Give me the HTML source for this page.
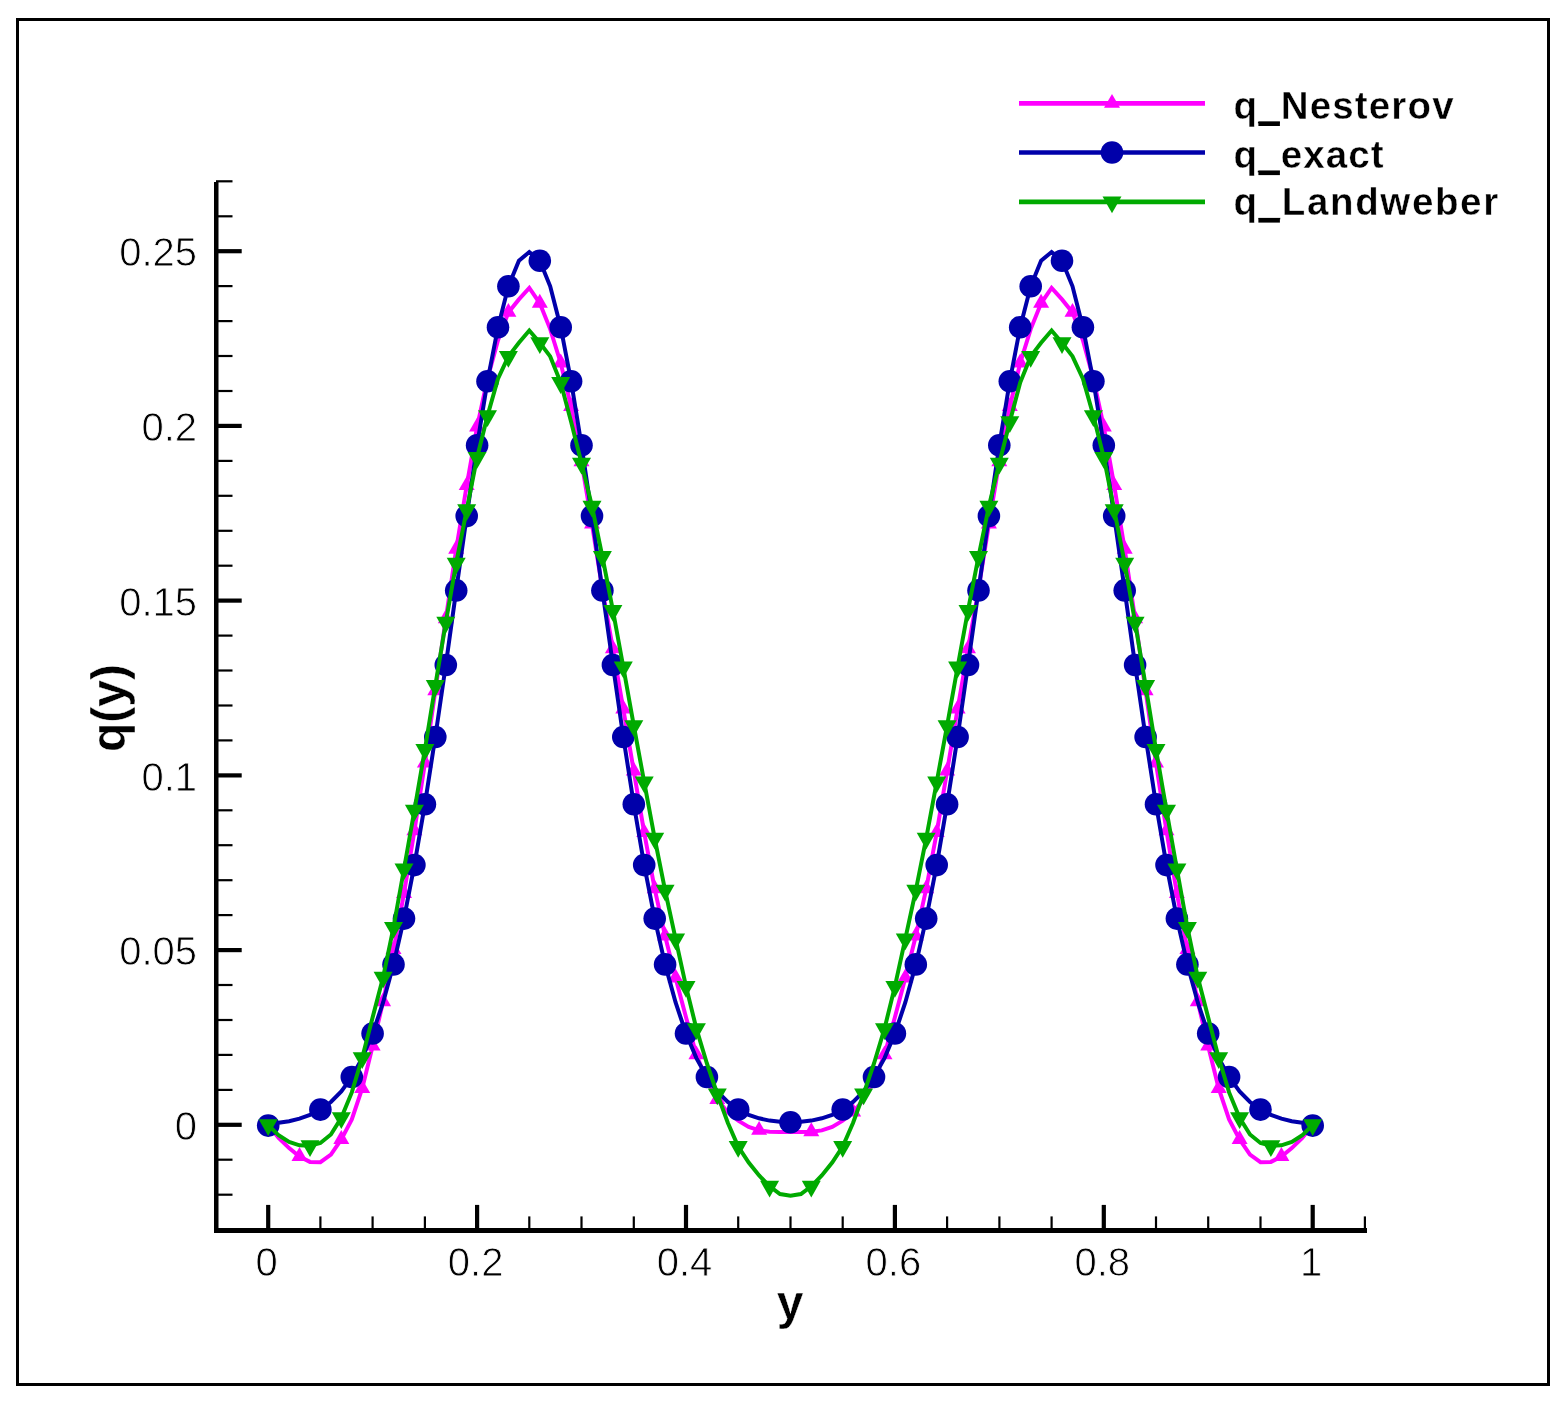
<!DOCTYPE html>
<html lang="en">
<head>
<meta charset="utf-8">
<title>q(y) comparison</title>
<style>
html,body{margin:0;padding:0;background:#fff;}
body{width:1564px;height:1407px;overflow:hidden;}
svg{display:block;}
</style>
</head>
<body>
<svg width="1564" height="1407" viewBox="0 0 1564 1407" role="img" aria-label="Comparison of q_Nesterov, q_exact and q_Landweber versus y">
<rect x="0" y="0" width="1564" height="1407" fill="#fff"/>
<rect x="17.5" y="19.5" width="1531" height="1365" fill="none" stroke="#000" stroke-width="3"/>
<g stroke="#000" stroke-linecap="butt">
<line x1="216.25" y1="182" x2="216.25" y2="1233" stroke-width="4.5"/>
<line x1="214" y1="1230.5" x2="1367" y2="1230.5" stroke-width="4.8"/>
<line x1="216" y1="1229.6" x2="232.5" y2="1229.6" stroke-width="2.2"/>
<line x1="216" y1="1194.7" x2="232.5" y2="1194.7" stroke-width="2.2"/>
<line x1="216" y1="1159.7" x2="232.5" y2="1159.7" stroke-width="2.2"/>
<line x1="216" y1="1124.8" x2="241.7" y2="1124.8" stroke-width="4.2"/>
<line x1="216" y1="1089.9" x2="232.5" y2="1089.9" stroke-width="2.2"/>
<line x1="216" y1="1054.9" x2="232.5" y2="1054.9" stroke-width="2.2"/>
<line x1="216" y1="1020.0" x2="232.5" y2="1020.0" stroke-width="2.2"/>
<line x1="216" y1="985.0" x2="232.5" y2="985.0" stroke-width="2.2"/>
<line x1="216" y1="950.1" x2="241.7" y2="950.1" stroke-width="4.2"/>
<line x1="216" y1="915.1" x2="232.5" y2="915.1" stroke-width="2.2"/>
<line x1="216" y1="880.2" x2="232.5" y2="880.2" stroke-width="2.2"/>
<line x1="216" y1="845.2" x2="232.5" y2="845.2" stroke-width="2.2"/>
<line x1="216" y1="810.3" x2="232.5" y2="810.3" stroke-width="2.2"/>
<line x1="216" y1="775.4" x2="241.7" y2="775.4" stroke-width="4.2"/>
<line x1="216" y1="740.4" x2="232.5" y2="740.4" stroke-width="2.2"/>
<line x1="216" y1="705.5" x2="232.5" y2="705.5" stroke-width="2.2"/>
<line x1="216" y1="670.5" x2="232.5" y2="670.5" stroke-width="2.2"/>
<line x1="216" y1="635.6" x2="232.5" y2="635.6" stroke-width="2.2"/>
<line x1="216" y1="600.6" x2="241.7" y2="600.6" stroke-width="4.2"/>
<line x1="216" y1="565.7" x2="232.5" y2="565.7" stroke-width="2.2"/>
<line x1="216" y1="530.8" x2="232.5" y2="530.8" stroke-width="2.2"/>
<line x1="216" y1="495.8" x2="232.5" y2="495.8" stroke-width="2.2"/>
<line x1="216" y1="460.9" x2="232.5" y2="460.9" stroke-width="2.2"/>
<line x1="216" y1="425.9" x2="241.7" y2="425.9" stroke-width="4.2"/>
<line x1="216" y1="391.0" x2="232.5" y2="391.0" stroke-width="2.2"/>
<line x1="216" y1="356.0" x2="232.5" y2="356.0" stroke-width="2.2"/>
<line x1="216" y1="321.1" x2="232.5" y2="321.1" stroke-width="2.2"/>
<line x1="216" y1="286.1" x2="232.5" y2="286.1" stroke-width="2.2"/>
<line x1="216" y1="251.2" x2="241.7" y2="251.2" stroke-width="4.2"/>
<line x1="216" y1="216.3" x2="232.5" y2="216.3" stroke-width="2.2"/>
<line x1="216" y1="181.3" x2="232.5" y2="181.3" stroke-width="2.2"/>
<line x1="216.0" y1="1216.4" x2="216.0" y2="1231" stroke-width="2.2"/>
<line x1="268.2" y1="1204.9" x2="268.2" y2="1231" stroke-width="4.2"/>
<line x1="320.4" y1="1216.4" x2="320.4" y2="1231" stroke-width="2.2"/>
<line x1="372.6" y1="1216.4" x2="372.6" y2="1231" stroke-width="2.2"/>
<line x1="424.9" y1="1216.4" x2="424.9" y2="1231" stroke-width="2.2"/>
<line x1="477.1" y1="1204.9" x2="477.1" y2="1231" stroke-width="4.2"/>
<line x1="529.3" y1="1216.4" x2="529.3" y2="1231" stroke-width="2.2"/>
<line x1="581.5" y1="1216.4" x2="581.5" y2="1231" stroke-width="2.2"/>
<line x1="633.8" y1="1216.4" x2="633.8" y2="1231" stroke-width="2.2"/>
<line x1="686.0" y1="1204.9" x2="686.0" y2="1231" stroke-width="4.2"/>
<line x1="738.2" y1="1216.4" x2="738.2" y2="1231" stroke-width="2.2"/>
<line x1="790.5" y1="1216.4" x2="790.5" y2="1231" stroke-width="2.2"/>
<line x1="842.7" y1="1216.4" x2="842.7" y2="1231" stroke-width="2.2"/>
<line x1="894.9" y1="1204.9" x2="894.9" y2="1231" stroke-width="4.2"/>
<line x1="947.1" y1="1216.4" x2="947.1" y2="1231" stroke-width="2.2"/>
<line x1="999.4" y1="1216.4" x2="999.4" y2="1231" stroke-width="2.2"/>
<line x1="1051.6" y1="1216.4" x2="1051.6" y2="1231" stroke-width="2.2"/>
<line x1="1103.8" y1="1204.9" x2="1103.8" y2="1231" stroke-width="4.2"/>
<line x1="1156.0" y1="1216.4" x2="1156.0" y2="1231" stroke-width="2.2"/>
<line x1="1208.2" y1="1216.4" x2="1208.2" y2="1231" stroke-width="2.2"/>
<line x1="1260.5" y1="1216.4" x2="1260.5" y2="1231" stroke-width="2.2"/>
<line x1="1312.7" y1="1204.9" x2="1312.7" y2="1231" stroke-width="4.2"/>
<line x1="1364.9" y1="1216.4" x2="1364.9" y2="1231" stroke-width="2.2"/>
</g>
<g font-family="'Liberation Sans', sans-serif" font-size="40px" fill="#000" stroke="#fff" stroke-width="0.8" paint-order="fill stroke">
<text x="197" y="1139.9" text-anchor="end">0</text>
<text x="197" y="965.2" text-anchor="end">0.05</text>
<text x="197" y="790.5" text-anchor="end">0.1</text>
<text x="197" y="615.7" text-anchor="end">0.15</text>
<text x="197" y="441.0" text-anchor="end">0.2</text>
<text x="197" y="266.3" text-anchor="end">0.25</text>
<text x="266.7" y="1275.8" text-anchor="middle">0</text>
<text x="475.6" y="1275.8" text-anchor="middle">0.2</text>
<text x="684.5" y="1275.8" text-anchor="middle">0.4</text>
<text x="893.4" y="1275.8" text-anchor="middle">0.6</text>
<text x="1102.3" y="1275.8" text-anchor="middle">0.8</text>
<text x="1311.2" y="1275.8" text-anchor="middle">1</text>
</g>
<g font-family="'Liberation Sans', sans-serif" font-weight="bold" font-size="48px" fill="#000" stroke="#fff" stroke-width="0.4" paint-order="fill stroke">
<text x="790" y="1319" text-anchor="middle">y</text>
<text transform="translate(124.5,708) rotate(-90)" text-anchor="middle">q(y)</text>
</g>
<g fill="#ff00ff" stroke="none">
<polyline points="268.2,1124.8 278.6,1137.8 289.1,1148.1 299.5,1156.6 310.0,1161.9 320.4,1162.2 330.9,1154.7 341.3,1139.5 351.8,1119.5 362.2,1088.5 372.6,1046.2 383.1,1001.8 393.5,949.7 404.0,893.5 414.4,830.9 424.9,763.1 435.3,690.8 445.8,618.8 456.2,549.3 466.7,485.7 477.1,427.0 487.5,378.7 498.0,340.3 508.4,312.4 518.9,299.4 529.3,287.9 539.8,303.3 550.2,329.1 560.7,363.0 571.1,406.7 581.5,461.9 592.0,524.1 602.4,589.5 612.9,648.9 623.3,709.0 633.8,771.2 644.2,832.7 654.7,888.9 665.1,936.1 675.6,978.0 686.0,1017.2 696.4,1054.9 706.9,1080.1 717.3,1099.6 727.8,1112.2 738.2,1120.6 748.7,1126.9 759.1,1130.4 769.6,1131.8 780.0,1132.1 790.5,1132.1 800.9,1132.1 811.3,1131.8 821.8,1130.4 832.2,1126.9 842.7,1120.6 853.1,1112.2 863.6,1099.6 874.0,1080.1 884.5,1054.9 894.9,1017.2 905.3,978.0 915.8,936.1 926.2,888.9 936.7,832.7 947.1,771.2 957.6,709.0 968.0,648.9 978.5,589.5 988.9,524.1 999.3,461.9 1009.8,406.7 1020.2,363.0 1030.7,329.1 1041.1,303.3 1051.6,287.9 1062.0,299.4 1072.5,312.4 1082.9,340.3 1093.4,378.7 1103.8,427.0 1114.2,485.7 1124.7,549.3 1135.1,618.8 1145.6,690.8 1156.0,763.1 1166.5,830.9 1176.9,893.5 1187.4,949.7 1197.8,1001.8 1208.2,1046.2 1218.7,1088.5 1229.1,1119.5 1239.6,1139.5 1250.0,1154.7 1260.5,1162.2 1270.9,1161.9 1281.4,1156.6 1291.8,1148.1 1302.3,1137.8 1312.7,1124.8" fill="none" stroke="#ff00ff" stroke-width="4.0" stroke-linejoin="miter" stroke-linecap="butt"/>
<path d="M268.2 1115.3 L276.2 1129.2 L260.2 1129.2 Z"/>
<path d="M299.5 1147.1 L307.5 1161.0 L291.5 1161.0 Z"/>
<path d="M341.3 1130.0 L349.3 1143.9 L333.3 1143.9 Z"/>
<path d="M362.2 1079.0 L370.2 1092.9 L354.2 1092.9 Z"/>
<path d="M372.6 1036.7 L380.6 1050.6 L364.6 1050.6 Z"/>
<path d="M383.1 992.3 L391.1 1006.2 L375.1 1006.2 Z"/>
<path d="M393.5 940.2 L401.5 954.1 L385.5 954.1 Z"/>
<path d="M404.0 884.0 L412.0 897.9 L396.0 897.9 Z"/>
<path d="M414.4 821.4 L422.4 835.3 L406.4 835.3 Z"/>
<path d="M424.9 753.6 L432.9 767.5 L416.9 767.5 Z"/>
<path d="M435.3 681.3 L443.3 695.2 L427.3 695.2 Z"/>
<path d="M445.8 609.3 L453.8 623.2 L437.8 623.2 Z"/>
<path d="M456.2 539.8 L464.2 553.7 L448.2 553.7 Z"/>
<path d="M466.7 476.2 L474.7 490.1 L458.7 490.1 Z"/>
<path d="M477.1 417.5 L485.1 431.4 L469.1 431.4 Z"/>
<path d="M487.5 369.2 L495.5 383.1 L479.5 383.1 Z"/>
<path d="M508.4 302.9 L516.4 316.8 L500.4 316.8 Z"/>
<path d="M539.8 293.8 L547.8 307.7 L531.8 307.7 Z"/>
<path d="M560.7 353.5 L568.7 367.4 L552.7 367.4 Z"/>
<path d="M571.1 397.2 L579.1 411.1 L563.1 411.1 Z"/>
<path d="M581.5 452.4 L589.5 466.3 L573.5 466.3 Z"/>
<path d="M592.0 514.6 L600.0 528.5 L584.0 528.5 Z"/>
<path d="M602.4 580.0 L610.4 593.9 L594.4 593.9 Z"/>
<path d="M612.9 639.4 L620.9 653.3 L604.9 653.3 Z"/>
<path d="M623.3 699.5 L631.3 713.4 L615.3 713.4 Z"/>
<path d="M633.8 761.7 L641.8 775.6 L625.8 775.6 Z"/>
<path d="M644.2 823.2 L652.2 837.1 L636.2 837.1 Z"/>
<path d="M654.7 879.4 L662.7 893.3 L646.7 893.3 Z"/>
<path d="M665.1 926.6 L673.1 940.5 L657.1 940.5 Z"/>
<path d="M675.6 968.5 L683.6 982.4 L667.6 982.4 Z"/>
<path d="M696.4 1045.4 L704.4 1059.3 L688.4 1059.3 Z"/>
<path d="M717.3 1090.1 L725.3 1104.0 L709.3 1104.0 Z"/>
<path d="M759.1 1120.9 L767.1 1134.8 L751.1 1134.8 Z"/>
<path d="M811.3 1122.3 L819.3 1136.2 L803.3 1136.2 Z"/>
<path d="M853.1 1102.7 L861.1 1116.6 L845.1 1116.6 Z"/>
<path d="M884.5 1045.4 L892.5 1059.3 L876.5 1059.3 Z"/>
<path d="M905.3 968.5 L913.3 982.4 L897.3 982.4 Z"/>
<path d="M915.8 926.6 L923.8 940.5 L907.8 940.5 Z"/>
<path d="M926.2 879.4 L934.2 893.3 L918.2 893.3 Z"/>
<path d="M936.7 823.2 L944.7 837.1 L928.7 837.1 Z"/>
<path d="M947.1 761.7 L955.1 775.6 L939.1 775.6 Z"/>
<path d="M957.6 699.5 L965.6 713.4 L949.6 713.4 Z"/>
<path d="M968.0 639.4 L976.0 653.3 L960.0 653.3 Z"/>
<path d="M978.5 580.0 L986.5 593.9 L970.5 593.9 Z"/>
<path d="M988.9 514.6 L996.9 528.5 L980.9 528.5 Z"/>
<path d="M999.3 452.4 L1007.3 466.3 L991.3 466.3 Z"/>
<path d="M1009.8 397.2 L1017.8 411.1 L1001.8 411.1 Z"/>
<path d="M1020.2 353.5 L1028.2 367.4 L1012.2 367.4 Z"/>
<path d="M1041.1 293.8 L1049.1 307.7 L1033.1 307.7 Z"/>
<path d="M1072.5 302.9 L1080.5 316.8 L1064.5 316.8 Z"/>
<path d="M1093.4 369.2 L1101.4 383.1 L1085.4 383.1 Z"/>
<path d="M1103.8 417.5 L1111.8 431.4 L1095.8 431.4 Z"/>
<path d="M1114.2 476.2 L1122.2 490.1 L1106.2 490.1 Z"/>
<path d="M1124.7 539.8 L1132.7 553.7 L1116.7 553.7 Z"/>
<path d="M1135.1 609.3 L1143.1 623.2 L1127.1 623.2 Z"/>
<path d="M1145.6 681.3 L1153.6 695.2 L1137.6 695.2 Z"/>
<path d="M1156.0 753.6 L1164.0 767.5 L1148.0 767.5 Z"/>
<path d="M1166.5 821.4 L1174.5 835.3 L1158.5 835.3 Z"/>
<path d="M1176.9 884.0 L1184.9 897.9 L1168.9 897.9 Z"/>
<path d="M1187.4 940.2 L1195.4 954.1 L1179.4 954.1 Z"/>
<path d="M1197.8 992.3 L1205.8 1006.2 L1189.8 1006.2 Z"/>
<path d="M1208.2 1036.7 L1216.2 1050.6 L1200.2 1050.6 Z"/>
<path d="M1218.7 1079.0 L1226.7 1092.9 L1210.7 1092.9 Z"/>
<path d="M1239.6 1130.0 L1247.6 1143.9 L1231.6 1143.9 Z"/>
<path d="M1281.4 1147.1 L1289.4 1161.0 L1273.4 1161.0 Z"/>
<path d="M1312.7 1115.3 L1320.7 1129.2 L1304.7 1129.2 Z"/>
</g>
<g fill="#0000aa" stroke="none">
<polyline points="268.2,1125.6 278.6,1122.8 289.1,1121.2 299.5,1118.7 310.0,1115.0 320.4,1109.6 330.9,1102.0 341.3,1091.4 351.8,1077.0 362.2,1058.1 372.6,1033.5 383.1,1002.5 393.5,964.4 404.0,918.6 414.4,865.1 424.9,804.2 435.3,737.0 445.8,665.0 456.2,590.4 466.7,516.1 477.1,445.2 487.5,381.2 498.0,327.2 508.4,286.3 518.9,260.7 529.3,252.0 539.8,260.7 550.2,286.3 560.7,327.2 571.1,381.2 581.5,445.2 592.0,516.1 602.4,590.4 612.9,665.0 623.3,737.0 633.8,804.2 644.2,865.1 654.7,918.6 665.1,964.4 675.6,1002.5 686.0,1033.5 696.4,1058.1 706.9,1077.0 717.3,1091.4 727.8,1101.9 738.2,1109.5 748.7,1114.8 759.1,1118.3 769.6,1120.6 780.0,1121.8 790.5,1122.2 800.9,1121.8 811.3,1120.6 821.8,1118.3 832.2,1114.8 842.7,1109.5 853.1,1101.9 863.6,1091.4 874.0,1077.0 884.5,1058.1 894.9,1033.5 905.3,1002.5 915.8,964.4 926.2,918.6 936.7,865.1 947.1,804.2 957.6,737.0 968.0,665.0 978.5,590.4 988.9,516.1 999.3,445.2 1009.8,381.2 1020.2,327.2 1030.7,286.3 1041.1,260.7 1051.6,252.0 1062.0,260.7 1072.5,286.3 1082.9,327.2 1093.4,381.2 1103.8,445.2 1114.2,516.1 1124.7,590.4 1135.1,665.0 1145.6,737.0 1156.0,804.2 1166.5,865.1 1176.9,918.6 1187.4,964.4 1197.8,1002.5 1208.2,1033.5 1218.7,1058.1 1229.1,1077.0 1239.6,1091.4 1250.0,1102.0 1260.5,1109.6 1270.9,1115.0 1281.4,1118.7 1291.8,1121.2 1302.3,1122.8 1312.7,1125.6" fill="none" stroke="#0000aa" stroke-width="4.0" stroke-linejoin="miter" stroke-linecap="butt"/>
<circle cx="268.2" cy="1125.6" r="11.3"/>
<circle cx="320.4" cy="1109.6" r="11.3"/>
<circle cx="351.8" cy="1077.0" r="11.3"/>
<circle cx="372.6" cy="1033.5" r="11.3"/>
<circle cx="393.5" cy="964.4" r="11.3"/>
<circle cx="404.0" cy="918.6" r="11.3"/>
<circle cx="414.4" cy="865.1" r="11.3"/>
<circle cx="424.9" cy="804.2" r="11.3"/>
<circle cx="435.3" cy="737.0" r="11.3"/>
<circle cx="445.8" cy="665.0" r="11.3"/>
<circle cx="456.2" cy="590.4" r="11.3"/>
<circle cx="466.7" cy="516.1" r="11.3"/>
<circle cx="477.1" cy="445.2" r="11.3"/>
<circle cx="487.5" cy="381.2" r="11.3"/>
<circle cx="498.0" cy="327.2" r="11.3"/>
<circle cx="508.4" cy="286.3" r="11.3"/>
<circle cx="539.8" cy="260.7" r="11.3"/>
<circle cx="560.7" cy="327.2" r="11.3"/>
<circle cx="571.1" cy="381.2" r="11.3"/>
<circle cx="581.5" cy="445.2" r="11.3"/>
<circle cx="592.0" cy="516.1" r="11.3"/>
<circle cx="602.4" cy="590.4" r="11.3"/>
<circle cx="612.9" cy="665.0" r="11.3"/>
<circle cx="623.3" cy="737.0" r="11.3"/>
<circle cx="633.8" cy="804.2" r="11.3"/>
<circle cx="644.2" cy="865.1" r="11.3"/>
<circle cx="654.7" cy="918.6" r="11.3"/>
<circle cx="665.1" cy="964.4" r="11.3"/>
<circle cx="686.0" cy="1033.5" r="11.3"/>
<circle cx="706.9" cy="1077.0" r="11.3"/>
<circle cx="738.2" cy="1109.5" r="11.3"/>
<circle cx="790.5" cy="1122.2" r="11.3"/>
<circle cx="842.7" cy="1109.5" r="11.3"/>
<circle cx="874.0" cy="1077.0" r="11.3"/>
<circle cx="894.9" cy="1033.5" r="11.3"/>
<circle cx="915.8" cy="964.4" r="11.3"/>
<circle cx="926.2" cy="918.6" r="11.3"/>
<circle cx="936.7" cy="865.1" r="11.3"/>
<circle cx="947.1" cy="804.2" r="11.3"/>
<circle cx="957.6" cy="737.0" r="11.3"/>
<circle cx="968.0" cy="665.0" r="11.3"/>
<circle cx="978.5" cy="590.4" r="11.3"/>
<circle cx="988.9" cy="516.1" r="11.3"/>
<circle cx="999.3" cy="445.2" r="11.3"/>
<circle cx="1009.8" cy="381.2" r="11.3"/>
<circle cx="1020.2" cy="327.2" r="11.3"/>
<circle cx="1030.7" cy="286.3" r="11.3"/>
<circle cx="1062.0" cy="260.7" r="11.3"/>
<circle cx="1082.9" cy="327.2" r="11.3"/>
<circle cx="1093.4" cy="381.2" r="11.3"/>
<circle cx="1103.8" cy="445.2" r="11.3"/>
<circle cx="1114.2" cy="516.1" r="11.3"/>
<circle cx="1124.7" cy="590.4" r="11.3"/>
<circle cx="1135.1" cy="665.0" r="11.3"/>
<circle cx="1145.6" cy="737.0" r="11.3"/>
<circle cx="1156.0" cy="804.2" r="11.3"/>
<circle cx="1166.5" cy="865.1" r="11.3"/>
<circle cx="1176.9" cy="918.6" r="11.3"/>
<circle cx="1187.4" cy="964.4" r="11.3"/>
<circle cx="1208.2" cy="1033.5" r="11.3"/>
<circle cx="1229.1" cy="1077.0" r="11.3"/>
<circle cx="1260.5" cy="1109.6" r="11.3"/>
<circle cx="1312.7" cy="1125.6" r="11.3"/>
</g>
<g fill="#00aa00" stroke="none">
<polyline points="268.2,1124.8 278.6,1135.3 289.1,1141.9 299.5,1145.3 310.0,1145.8 320.4,1143.0 330.9,1134.5 341.3,1117.8 351.8,1092.4 362.2,1057.7 372.6,1017.5 383.1,977.3 393.5,927.4 404.0,869.0 414.4,810.3 424.9,749.5 435.3,685.6 445.8,622.3 456.2,563.2 466.7,509.8 477.1,457.4 487.5,415.8 498.0,378.7 508.4,356.4 518.9,342.8 529.3,330.5 539.8,342.8 550.2,356.4 560.7,382.6 571.1,421.7 581.5,463.3 592.0,506.3 602.4,556.6 612.9,610.4 623.3,667.0 633.8,725.7 644.2,782.0 654.7,838.3 665.1,890.3 675.6,938.9 686.0,986.4 696.4,1028.7 706.9,1063.5 717.3,1094.0 727.8,1122.8 738.2,1146.5 748.7,1162.5 759.1,1175.5 769.6,1186.3 780.0,1194.0 790.5,1195.7 800.9,1194.0 811.3,1186.3 821.8,1175.5 832.2,1162.5 842.7,1146.5 853.1,1122.8 863.6,1094.0 874.0,1063.5 884.5,1028.7 894.9,986.4 905.3,938.9 915.8,890.3 926.2,838.3 936.7,782.0 947.1,725.7 957.6,667.0 968.0,610.4 978.5,556.6 988.9,506.3 999.3,463.3 1009.8,421.7 1020.2,382.6 1030.7,356.4 1041.1,342.8 1051.6,330.5 1062.0,342.8 1072.5,356.4 1082.9,378.7 1093.4,415.8 1103.8,457.4 1114.2,509.8 1124.7,563.2 1135.1,622.3 1145.6,685.6 1156.0,749.5 1166.5,810.3 1176.9,869.0 1187.4,927.4 1197.8,977.3 1208.2,1017.5 1218.7,1057.7 1229.1,1092.4 1239.6,1117.8 1250.0,1134.5 1260.5,1143.0 1270.9,1145.8 1281.4,1145.3 1291.8,1141.9 1302.3,1135.3 1312.7,1124.8" fill="none" stroke="#00aa00" stroke-width="4.0" stroke-linejoin="miter" stroke-linecap="butt"/>
<path d="M268.2 1136.1 L277.7 1119.3 L258.7 1119.3 Z"/>
<path d="M310.0 1157.1 L319.5 1140.3 L300.5 1140.3 Z"/>
<path d="M341.3 1129.1 L350.8 1112.3 L331.8 1112.3 Z"/>
<path d="M362.2 1069.0 L371.7 1052.2 L352.7 1052.2 Z"/>
<path d="M383.1 988.6 L392.6 971.8 L373.6 971.8 Z"/>
<path d="M393.5 938.7 L403.0 921.9 L384.0 921.9 Z"/>
<path d="M404.0 880.3 L413.5 863.5 L394.5 863.5 Z"/>
<path d="M414.4 821.6 L423.9 804.8 L404.9 804.8 Z"/>
<path d="M424.9 760.8 L434.4 744.0 L415.4 744.0 Z"/>
<path d="M435.3 696.9 L444.8 680.1 L425.8 680.1 Z"/>
<path d="M445.8 633.6 L455.3 616.8 L436.3 616.8 Z"/>
<path d="M456.2 574.5 L465.7 557.7 L446.7 557.7 Z"/>
<path d="M466.7 521.1 L476.2 504.3 L457.2 504.3 Z"/>
<path d="M477.1 468.7 L486.6 451.9 L467.6 451.9 Z"/>
<path d="M487.5 427.1 L497.0 410.3 L478.0 410.3 Z"/>
<path d="M508.4 367.7 L517.9 350.9 L498.9 350.9 Z"/>
<path d="M539.8 354.1 L549.3 337.3 L530.3 337.3 Z"/>
<path d="M560.7 393.9 L570.2 377.1 L551.2 377.1 Z"/>
<path d="M581.5 474.6 L591.0 457.8 L572.0 457.8 Z"/>
<path d="M592.0 517.6 L601.5 500.8 L582.5 500.8 Z"/>
<path d="M602.4 567.9 L611.9 551.1 L592.9 551.1 Z"/>
<path d="M612.9 621.7 L622.4 604.9 L603.4 604.9 Z"/>
<path d="M623.3 678.3 L632.8 661.5 L613.8 661.5 Z"/>
<path d="M633.8 737.0 L643.3 720.2 L624.3 720.2 Z"/>
<path d="M644.2 793.3 L653.7 776.5 L634.7 776.5 Z"/>
<path d="M654.7 849.6 L664.2 832.8 L645.2 832.8 Z"/>
<path d="M665.1 901.6 L674.6 884.8 L655.6 884.8 Z"/>
<path d="M675.6 950.2 L685.1 933.4 L666.1 933.4 Z"/>
<path d="M686.0 997.7 L695.5 980.9 L676.5 980.9 Z"/>
<path d="M696.4 1040.0 L705.9 1023.2 L686.9 1023.2 Z"/>
<path d="M717.3 1105.3 L726.8 1088.5 L707.8 1088.5 Z"/>
<path d="M738.2 1157.8 L747.7 1141.0 L728.7 1141.0 Z"/>
<path d="M769.6 1197.6 L779.1 1180.8 L760.1 1180.8 Z"/>
<path d="M811.3 1197.6 L820.8 1180.8 L801.8 1180.8 Z"/>
<path d="M842.7 1157.8 L852.2 1141.0 L833.2 1141.0 Z"/>
<path d="M863.6 1105.3 L873.1 1088.5 L854.1 1088.5 Z"/>
<path d="M884.5 1040.0 L894.0 1023.2 L875.0 1023.2 Z"/>
<path d="M894.9 997.7 L904.4 980.9 L885.4 980.9 Z"/>
<path d="M905.3 950.2 L914.8 933.4 L895.8 933.4 Z"/>
<path d="M915.8 901.6 L925.3 884.8 L906.3 884.8 Z"/>
<path d="M926.2 849.6 L935.7 832.8 L916.7 832.8 Z"/>
<path d="M936.7 793.3 L946.2 776.5 L927.2 776.5 Z"/>
<path d="M947.1 737.0 L956.6 720.2 L937.6 720.2 Z"/>
<path d="M957.6 678.3 L967.1 661.5 L948.1 661.5 Z"/>
<path d="M968.0 621.7 L977.5 604.9 L958.5 604.9 Z"/>
<path d="M978.5 567.9 L988.0 551.1 L969.0 551.1 Z"/>
<path d="M988.9 517.6 L998.4 500.8 L979.4 500.8 Z"/>
<path d="M999.3 474.6 L1008.8 457.8 L989.8 457.8 Z"/>
<path d="M1009.8 433.0 L1019.3 416.2 L1000.3 416.2 Z"/>
<path d="M1030.7 367.7 L1040.2 350.9 L1021.2 350.9 Z"/>
<path d="M1062.0 354.1 L1071.5 337.3 L1052.5 337.3 Z"/>
<path d="M1093.4 427.1 L1102.9 410.3 L1083.9 410.3 Z"/>
<path d="M1103.8 468.7 L1113.3 451.9 L1094.3 451.9 Z"/>
<path d="M1114.2 521.1 L1123.7 504.3 L1104.7 504.3 Z"/>
<path d="M1124.7 574.5 L1134.2 557.7 L1115.2 557.7 Z"/>
<path d="M1135.1 633.6 L1144.6 616.8 L1125.6 616.8 Z"/>
<path d="M1145.6 696.9 L1155.1 680.1 L1136.1 680.1 Z"/>
<path d="M1156.0 760.8 L1165.5 744.0 L1146.5 744.0 Z"/>
<path d="M1166.5 821.6 L1176.0 804.8 L1157.0 804.8 Z"/>
<path d="M1176.9 880.3 L1186.4 863.5 L1167.4 863.5 Z"/>
<path d="M1187.4 938.7 L1196.9 921.9 L1177.9 921.9 Z"/>
<path d="M1197.8 988.6 L1207.3 971.8 L1188.3 971.8 Z"/>
<path d="M1218.7 1069.0 L1228.2 1052.2 L1209.2 1052.2 Z"/>
<path d="M1239.6 1129.1 L1249.1 1112.3 L1230.1 1112.3 Z"/>
<path d="M1270.9 1157.1 L1280.4 1140.3 L1261.4 1140.3 Z"/>
<path d="M1312.7 1136.1 L1322.2 1119.3 L1303.2 1119.3 Z"/>
</g>
<g fill="#ff00ff"><line x1="1019.0" y1="103.4" x2="1205.0" y2="103.4" stroke="#ff00ff" stroke-width="4.6"/><path d="M1112.0 93.9 L1120.0 107.8 L1104.0 107.8 Z"/></g>
<text x="1233.5" y="118.8" font-family="'Liberation Sans', sans-serif" font-weight="bold" font-size="38.5px" letter-spacing="1.15px" fill="#000" stroke="#fff" stroke-width="0.4" paint-order="fill stroke">q_Nesterov</text>
<rect x="1258.4" y="121.4" width="21.5" height="4.6" fill="#000"/>
<g fill="#0000aa"><line x1="1019.0" y1="152.5" x2="1205.0" y2="152.5" stroke="#0000aa" stroke-width="4.6"/><circle cx="1112.0" cy="152.5" r="11.3"/></g>
<text x="1233.5" y="167.9" font-family="'Liberation Sans', sans-serif" font-weight="bold" font-size="38.5px" letter-spacing="1.10px" fill="#000" stroke="#fff" stroke-width="0.4" paint-order="fill stroke">q_exact</text>
<rect x="1258.4" y="170.5" width="21.5" height="4.6" fill="#000"/>
<g fill="#00aa00"><line x1="1019.0" y1="201.9" x2="1205.0" y2="201.9" stroke="#00aa00" stroke-width="4.6"/><path d="M1112.0 213.2 L1121.5 196.4 L1102.5 196.4 Z"/></g>
<text x="1233.5" y="215.4" font-family="'Liberation Sans', sans-serif" font-weight="bold" font-size="38.5px" letter-spacing="1.65px" fill="#000" stroke="#fff" stroke-width="0.4" paint-order="fill stroke">q_Landweber</text>
<rect x="1258.4" y="218.0" width="21.5" height="4.6" fill="#000"/>
</svg>
</body>
</html>
